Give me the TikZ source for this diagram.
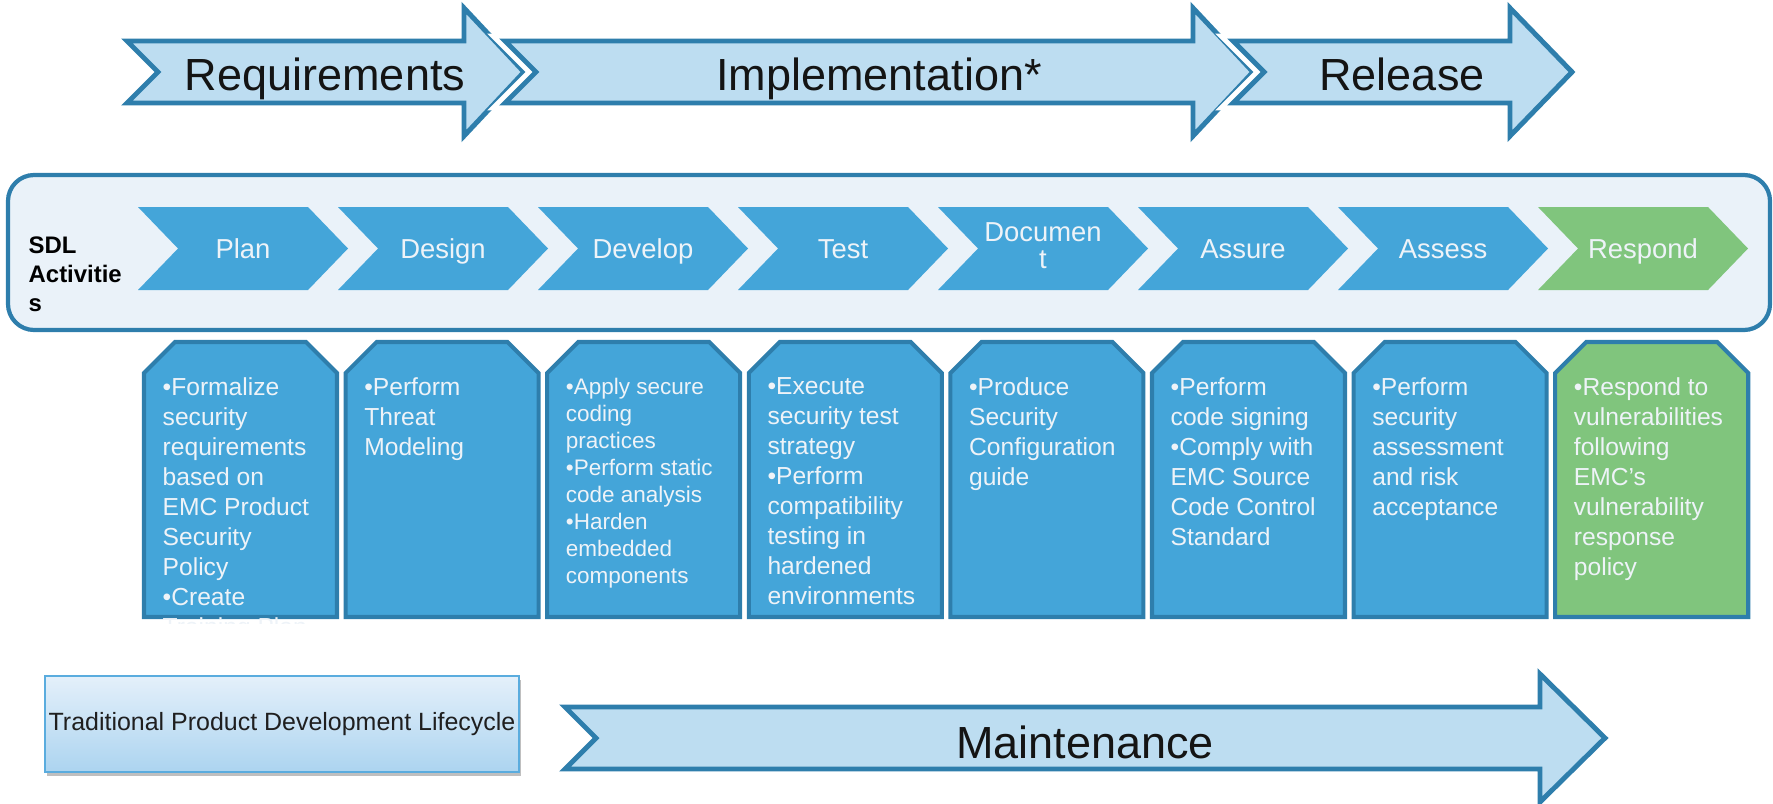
\documentclass[tikz,border=0pt]{standalone}
\usepackage{fontspec}
\setmainfont{Liberation Sans}
\usetikzlibrary{shadows}

\definecolor{phasefill}{RGB}{189,221,241}
\definecolor{phaseline}{RGB}{46,126,172}
\definecolor{bandfill}{RGB}{234,242,249}
\definecolor{sdlblue}{RGB}{68,165,217}
\definecolor{sdlgreen}{RGB}{128,197,125}
\definecolor{sdltext}{RGB}{238,243,248}
\definecolor{legendtop}{RGB}{228,240,250}
\definecolor{legendbottom}{RGB}{172,212,240}
\definecolor{legendline}{RGB}{90,172,222}

\tikzset{
    % block arrow: tail x, head x, tip x, centre y
    phase arrow/.style n args={4}{
        insert path={
            (#1,#4-31) -- (#2,#4-31) -- (#2,#4-64) -- (#3,#4)
            -- (#2,#4+64) -- (#2,#4+31) -- (#1,#4+31) -- (#1+31,#4) -- cycle
        }
    },
    % chevron inside the band, #1 = left x
    chevron/.style={
        insert path={
            (#1,207) -- (#1+170,207) -- (#1+210,248.5) -- (#1+170,290)
            -- (#1,290) -- (#1+40,248.5) -- cycle
        }
    },
    % card with cut top corners, #1 = left x
    card/.style={
        insert path={
            (#1,373) -- (#1+31,342) -- (#1+162,342) -- (#1+193,373)
            -- (#1+193,617) -- (#1,617) -- cycle
        }
    },
}

\begin{document}
\begin{tikzpicture}[x=0.01cm, y=-0.01cm,
    phase/.style={draw=phaseline, fill=phasefill, line width=1.4pt},
    gap/.style={draw=white, line width=4.2pt},
    phase label/.style={anchor=base, inner sep=0pt, text=black!92,
        font=\fontsize{12.8}{15}\selectfont},
    band/.style={draw=phaseline, fill=bandfill, line width=1.2pt, rounded corners=0.26cm},
    activity label/.style={anchor=base, inner sep=0pt, align=center, text=sdltext,
        font=\fontsize{7.8}{7.7}\selectfont},
    task/.style={draw=phaseline, fill=#1, line width=1.15pt},
    task text/.style={anchor=north west, inner sep=0pt, align=left, text=sdltext,
        font=\fontsize{7}{8.54}\selectfont},
    legend/.style={draw=legendline, line width=0.4pt, top color=legendtop,
        bottom color=legendbottom, minimum width=4.74cm, minimum height=0.96cm,
        inner sep=0pt, drop shadow={shadow xshift=0.5pt, shadow yshift=-1.2pt, opacity=0.5},
        font=\fontsize{7.1}{8.5}\selectfont, text=black!88},
]
\useasboundingbox (0,0) rectangle (1773,803);

% phases of the traditional lifecycle
\draw[gap, phase arrow={127}{464}{524}{72}];
\draw[phase, phase arrow={127}{464}{524}{72}];
\node[phase label] (requirements) at (325,90) {Requirements};
\draw[gap, phase arrow={505}{1193}{1253}{72}];
\draw[phase, phase arrow={505}{1193}{1253}{72}];
\node[phase label] (implementation) at (879,90) {Implementation*};
\draw[gap, phase arrow={1233}{1510}{1572}{72}];
\draw[phase, phase arrow={1233}{1510}{1572}{72}];
\node[phase label] (release) at (1402,90) {Release};

% SDL band with its chevrons
\draw[band] (8,175) rectangle (1770,330);
\node[anchor=north west, inner sep=0pt, align=left,
    font=\bfseries\fontsize{6.8}{8.25}\selectfont] (sdl) at (28,236) {SDL\\Activitie\\s};

\foreach \x/\c in {138/sdlblue, 338/sdlblue, 538/sdlblue, 738/sdlblue,
                   938/sdlblue, 1138/sdlblue, 1338/sdlblue, 1538/sdlgreen}
    \fill[\c, chevron=\x];

\node[activity label] (plan) at (243,258) {Plan};
\node[activity label] (design) at (443,258) {Design};
\node[activity label] (develop) at (643,258) {Develop};
\node[activity label] (test) at (843,258) {Test};
\node[activity label, anchor=center] (document) at (1043,246) {Documen\\t};
\node[activity label] (assure) at (1243,258) {Assure};
\node[activity label] (assess) at (1443,258) {Assess};
\node[activity label] (respond) at (1643,258) {Respond};

% task cards under each activity
\foreach \x/\c in {144/sdlblue, 345.6/sdlblue, 547.2/sdlblue, 748.8/sdlblue,
                   950.4/sdlblue, 1152/sdlblue, 1353.6/sdlblue, 1555.2/sdlgreen}
    \draw[task=\c, card=\x];

\begin{scope}
\clip (0,0) rectangle (1773,623); % first card runs over its bottom edge
\node[task text] (plantasks) at (162,377)
    {•Formalize\\security\\requirements\\based on\\EMC Product\\Security\\Policy\\•Create\\Training Plan};
\node[task text] (designtasks) at (363.6,377) {•Perform\\Threat\\Modeling};
\node[task text, font=\fontsize{6.4}{7.7}\selectfont] (developtasks) at (565.2,377)
    {•Apply secure\\coding\\practices\\•Perform static\\code analysis\\•Harden\\embedded\\components};
\node[task text] (testtasks) at (766.8,377)
    {•Execute\\security test\\strategy\\•Perform\\compatibility\\testing in\\hardened\\environments};
\node[task text] (documenttasks) at (968.4,377) {•Produce\\Security\\Configuration\\guide};
\node[task text] (assuretasks) at (1170,377)
    {•Perform\\code signing\\•Comply with\\EMC Source\\Code Control\\Standard};
\node[task text] (assesstasks) at (1371.6,377) {•Perform\\security\\assessment\\and risk\\acceptance};
\node[task text] (respondtasks) at (1573.2,377)
    {•Respond to\\vulnerabilities\\following\\EMC’s\\vulnerability\\response\\policy};
\end{scope}

% legend and maintenance arrow
\node[legend] (traditional) at (282,724) {Traditional Product Development Lifecycle};
\draw[phase, phase arrow={565}{1540}{1605}{738}];
\node[phase label] (maintenance) at (1085,758) {Maintenance};
\end{tikzpicture}
\end{document}
